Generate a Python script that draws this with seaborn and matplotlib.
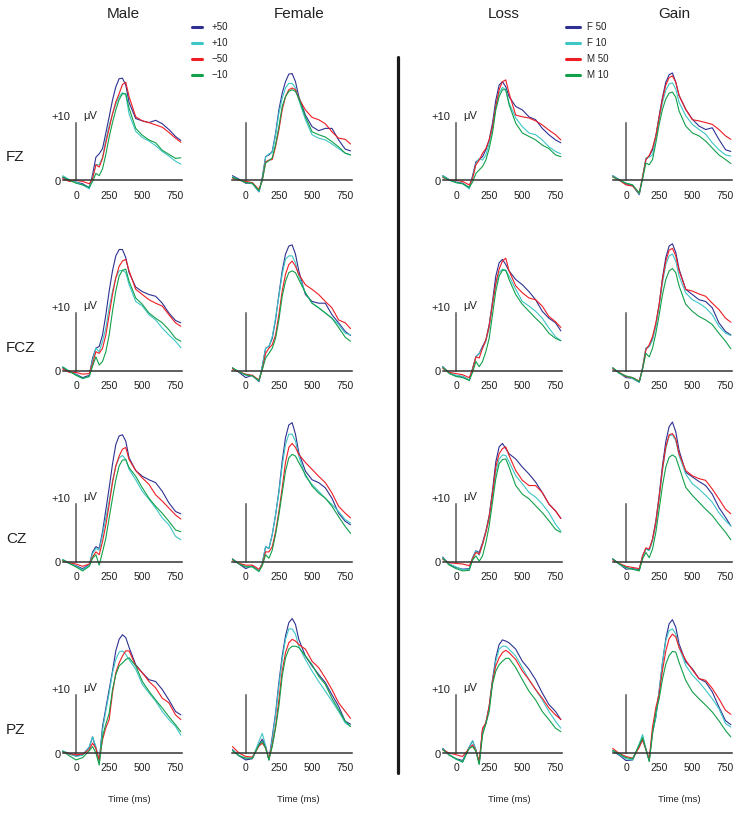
import matplotlib
matplotlib.use('Agg')
import matplotlib.pyplot as plt
from matplotlib.lines import Line2D
import pandas as pd
import seaborn as sns

# ---- data --------------------------------------------------------------
TIME_MS = [-100, -50, 0, 50, 100, 125, 150, 175, 200, 225, 250, 275, 300,
           325, 350, 375, 400, 450, 500, 550, 600, 650, 700, 750, 790]

ELECTRODES = ['FZ', 'FCZ', 'CZ', 'PZ']
COLUMNS = ['Male', 'Female', 'Loss', 'Gain']
SEX_CONDS = ['+50', '+10', '\u221250', '\u221210']
OUTCOME_CONDS = ['F 50', 'F 10', 'M 50', 'M 10']
COLORS = ['#2E3192', '#3EC6C6', '#EE1D24', '#12A04A']

# amplitudes in uV, one list per condition (legend order)
FZ_MALE = [
    [0.5, 0.0, -0.3, -0.6, -1.3, 1.0, 4.0, 4.6, 5.5, 8.2, 11.0, 13.9, 16.2, 17.6, 17.7, 16.5, 13.5, 10.7, 10.3, 10.0, 10.4, 9.8, 8.8, 7.6, 6.9],
    [0.8, 0.1, -0.3, -0.8, -1.5, 0.5, 2.7, 2.7, 4.0, 7.0, 9.5, 11.5, 13.2, 14.5, 15.2, 14.8, 11.5, 8.5, 7.4, 6.8, 6.0, 5.0, 4.2, 3.3, 2.8],
    [0.3, -0.2, 0.0, -0.2, -0.6, 0.3, 2.7, 2.3, 3.8, 6.5, 9.0, 11.5, 13.6, 15.0, 16.6, 17.0, 14.5, 11.0, 10.3, 10.0, 9.6, 9.2, 8.3, 7.3, 6.6],
    [0.6, 0.0, -0.5, -0.8, -1.2, -0.2, 1.2, 0.8, 2.0, 4.5, 7.5, 10.0, 12.2, 14.0, 15.0, 15.0, 12.5, 9.0, 7.8, 7.0, 6.5, 5.2, 4.5, 3.8, 3.9],
]
FZ_FEMALE = [
    [0.8, 0.2, -0.5, -0.5, -2.0, 0.5, 4.1, 4.4, 5.0, 8.1, 12.2, 15.1, 17.1, 18.4, 18.5, 17.1, 14.5, 11.3, 9.3, 8.6, 9.0, 9.0, 7.0, 5.4, 5.1],
    [0.6, 0.1, -0.3, -0.6, -2.0, 0.3, 4.0, 4.6, 4.8, 7.8, 11.6, 14.2, 16.0, 16.8, 16.8, 16.0, 13.9, 10.5, 7.9, 7.3, 7.0, 6.3, 5.5, 4.7, 4.4],
    [0.4, 0.0, -0.2, -0.4, -1.6, 0.0, 3.2, 3.5, 3.6, 5.8, 8.7, 12.2, 14.5, 15.7, 16.0, 15.7, 14.2, 12.2, 10.9, 10.5, 9.8, 8.4, 7.3, 7.1, 6.3],
    [0.5, 0.1, -0.4, -0.5, -1.8, 0.0, 3.0, 3.4, 3.9, 6.2, 9.3, 12.8, 14.5, 15.4, 15.7, 15.4, 14.2, 11.0, 8.4, 7.9, 7.5, 6.7, 5.8, 4.7, 4.4],
]
FZ_LOSS = [
    [0.8, 0.1, -0.3, -0.5, -1.3, 0.8, 3.2, 3.6, 4.1, 5.3, 7.0, 9.9, 13.9, 16.5, 17.1, 16.2, 14.5, 12.8, 12.2, 11.0, 10.5, 9.0, 7.9, 7.0, 6.5],
    [0.8, 0.1, -0.4, -0.6, -1.5, 0.5, 2.9, 3.8, 3.5, 4.4, 6.4, 9.0, 12.8, 15.1, 16.1, 15.7, 13.4, 10.8, 9.3, 8.2, 7.9, 7.0, 5.8, 5.0, 4.6],
    [0.5, 0.0, 0.0, -0.2, -0.8, 0.3, 2.7, 3.5, 4.7, 5.5, 7.0, 9.3, 12.8, 15.7, 17.1, 17.4, 15.1, 11.3, 11.0, 10.8, 10.3, 9.6, 8.7, 7.9, 7.0],
    [0.6, 0.0, -0.4, -0.6, -1.2, -0.3, 1.2, 1.8, 2.4, 3.5, 5.5, 8.2, 12.2, 14.5, 15.7, 15.7, 13.1, 9.9, 8.2, 7.6, 7.0, 6.1, 5.5, 4.4, 4.1],
]
FZ_GAIN = [
    [0.8, 0.1, -0.6, -0.9, -2.5, 0.5, 3.6, 4.2, 5.3, 7.7, 11.2, 14.4, 17.0, 18.3, 18.6, 17.0, 14.7, 12.3, 10.6, 9.4, 8.8, 9.1, 7.1, 5.3, 5.0],
    [0.8, 0.1, -0.5, -0.8, -2.4, 0.6, 3.9, 4.0, 4.4, 7.5, 10.6, 13.5, 15.6, 16.7, 16.9, 15.8, 13.5, 11.2, 9.7, 8.8, 8.0, 6.5, 5.3, 4.4, 4.2],
    [0.6, 0.0, -0.8, -1.0, -2.2, 0.6, 3.6, 4.3, 5.6, 7.7, 10.9, 14.1, 16.5, 17.8, 18.1, 17.0, 14.7, 12.3, 10.5, 10.3, 10.0, 9.7, 8.8, 7.7, 7.1],
    [0.6, 0.0, -0.5, -0.8, -2.2, 0.2, 3.0, 2.7, 3.6, 6.5, 9.7, 12.3, 14.1, 15.1, 15.3, 14.4, 12.0, 9.4, 8.2, 7.7, 6.8, 5.6, 4.4, 3.6, 2.9],
]

FCZ_MALE = [
    [0.5, -0.2, -0.6, -1.2, -0.8, 2.2, 3.9, 4.2, 6.2, 9.7, 13.8, 17.3, 19.9, 21.0, 21.0, 19.6, 17.0, 14.5, 13.7, 13.2, 12.9, 11.7, 10.0, 8.7, 8.3],
    [0.7, -0.1, -0.7, -1.4, -1.0, 1.8, 3.9, 3.3, 5.1, 7.4, 10.9, 13.8, 16.1, 17.3, 17.4, 17.0, 14.9, 12.0, 11.2, 9.7, 8.8, 7.4, 6.2, 5.1, 4.0],
    [0.3, -0.3, -0.3, -0.6, -0.5, 1.2, 3.3, 3.0, 3.9, 6.2, 9.7, 13.2, 16.1, 18.1, 19.0, 19.3, 17.3, 14.1, 13.2, 12.3, 11.7, 11.2, 9.7, 8.3, 7.7],
    [0.6, -0.1, -0.8, -1.3, -1.0, 0.8, 2.4, 1.0, 1.6, 3.3, 6.2, 10.3, 13.8, 16.4, 17.4, 17.6, 15.5, 12.6, 11.5, 10.0, 9.1, 8.3, 7.1, 5.6, 5.1],
]
FCZ_FEMALE = [
    [0.5, -0.3, -1.2, -0.8, -1.9, 0.8, 3.9, 4.2, 5.6, 8.8, 13.2, 17.3, 20.2, 21.6, 21.8, 20.2, 17.3, 13.2, 12.0, 11.7, 11.7, 9.7, 8.3, 6.8, 6.1],
    [0.4, -0.2, -0.8, -0.9, -1.8, 0.8, 3.9, 4.2, 5.9, 9.1, 12.9, 16.7, 19.3, 19.9, 19.9, 18.7, 16.4, 13.5, 11.7, 10.9, 10.0, 9.1, 8.0, 6.5, 6.2],
    [0.3, -0.2, -0.6, -0.8, -1.6, 0.2, 3.0, 3.9, 4.5, 6.2, 9.7, 13.8, 16.7, 18.4, 19.0, 18.1, 16.7, 14.9, 14.1, 13.2, 12.0, 10.9, 8.8, 8.3, 7.3],
    [0.5, -0.2, -0.7, -0.9, -1.7, 0.2, 2.2, 3.0, 3.9, 5.6, 8.8, 12.9, 15.5, 17.0, 17.3, 17.0, 15.8, 13.5, 11.7, 10.9, 10.0, 9.1, 7.5, 5.8, 5.1],
]
FCZ_LOSS = [
    [0.7, -0.4, -0.9, -1.0, -1.6, 0.4, 2.4, 3.0, 4.2, 5.3, 8.0, 12.0, 16.4, 18.7, 19.3, 18.4, 17.3, 15.8, 14.9, 13.7, 12.3, 10.3, 9.1, 8.3, 6.9],
    [0.6, -0.4, -0.8, -1.0, -1.6, 0.3, 2.4, 3.0, 3.9, 5.1, 7.4, 11.5, 14.9, 17.0, 17.6, 17.4, 16.4, 14.1, 12.0, 11.2, 10.3, 9.1, 7.4, 5.9, 5.2],
    [0.4, -0.3, -0.5, -0.7, -1.2, 0.2, 2.4, 2.2, 3.9, 5.3, 7.7, 11.5, 15.2, 17.6, 19.0, 19.5, 17.3, 14.7, 13.5, 12.6, 12.3, 11.2, 9.4, 8.5, 7.5],
    [0.6, -0.5, -1.0, -1.2, -1.7, -0.3, 1.6, 0.7, 1.6, 3.3, 5.6, 9.7, 13.8, 16.4, 17.4, 17.4, 15.8, 13.2, 11.5, 10.3, 9.1, 8.0, 6.5, 5.6, 5.2],
]
FCZ_GAIN = [
    [0.5, -0.4, -1.2, -1.3, -2.0, 0.5, 3.9, 4.2, 5.6, 8.0, 11.5, 16.1, 19.6, 21.6, 22.0, 20.5, 17.6, 14.1, 13.2, 12.3, 12.0, 10.9, 8.3, 6.8, 6.2],
    [0.4, -0.5, -1.0, -1.4, -2.0, 0.5, 3.9, 4.2, 5.3, 7.7, 11.2, 15.2, 18.4, 19.9, 20.2, 19.0, 16.4, 13.5, 12.3, 11.7, 10.9, 9.7, 7.7, 6.5, 6.1],
    [0.3, -0.3, -1.0, -1.2, -1.8, 0.4, 3.6, 4.5, 5.9, 8.3, 11.5, 15.8, 19.0, 20.9, 21.2, 19.9, 17.3, 14.1, 13.8, 13.3, 12.9, 11.7, 10.6, 9.1, 8.4],
    [0.5, -0.4, -0.9, -1.2, -1.9, 0.2, 3.0, 2.4, 3.9, 6.5, 9.7, 13.2, 15.8, 17.3, 17.7, 17.0, 14.7, 11.5, 10.3, 9.4, 8.8, 8.0, 6.5, 5.1, 3.8],
]

CZ_MALE = [
    [0.3, -0.3, -0.7, -1.2, -0.5, 1.7, 2.6, 2.3, 5.2, 9.0, 12.8, 16.9, 20.3, 21.8, 22.0, 20.9, 18.0, 15.8, 14.8, 14.2, 13.7, 12.2, 10.2, 8.7, 8.3],
    [0.4, -0.2, -0.8, -1.4, -0.6, 1.4, 2.3, 2.0, 4.7, 7.6, 10.5, 14.0, 16.6, 18.0, 18.4, 17.7, 16.0, 14.2, 12.2, 10.8, 9.3, 7.6, 6.4, 4.4, 3.8],
    [0.2, -0.2, -0.4, -0.8, -0.4, 0.8, 1.7, 1.2, 3.5, 6.4, 9.9, 13.7, 16.6, 18.3, 19.5, 19.8, 17.7, 15.8, 14.5, 13.4, 11.6, 10.5, 9.3, 8.1, 7.4],
    [0.3, -0.3, -0.9, -1.6, -0.8, 0.6, 1.2, -0.6, 1.7, 4.1, 7.6, 11.0, 14.2, 16.6, 17.6, 17.7, 16.3, 14.8, 12.8, 11.0, 9.6, 8.4, 7.0, 5.5, 5.2],
]
CZ_FEMALE = [
    [0.5, -0.4, -1.2, -0.7, -1.6, -0.3, 2.6, 2.3, 4.7, 8.1, 12.2, 17.4, 21.5, 23.7, 24.1, 22.1, 18.9, 15.7, 14.2, 13.7, 12.8, 11.0, 8.4, 7.0, 6.4],
    [0.4, -0.3, -0.9, -0.8, -1.6, -0.2, 2.6, 2.3, 4.7, 8.1, 11.9, 16.6, 20.3, 22.1, 22.1, 20.9, 18.3, 14.8, 13.4, 12.2, 11.0, 9.9, 8.7, 7.3, 6.7],
    [0.3, -0.3, -0.6, -0.6, -1.3, -0.5, 1.7, 1.7, 2.6, 5.2, 8.7, 12.8, 17.2, 19.8, 20.5, 19.8, 18.6, 17.2, 16.0, 14.8, 13.7, 11.9, 9.6, 8.4, 7.6],
    [0.4, -0.4, -0.9, -0.9, -1.7, -0.7, 1.2, 0.6, 2.0, 4.7, 8.1, 11.9, 15.7, 18.0, 18.6, 18.3, 17.2, 15.1, 13.1, 11.9, 11.0, 9.6, 7.8, 6.1, 4.9],
]
CZ_LOSS = [
    [0.8, -0.5, -1.0, -1.3, -1.2, 0.7, 1.9, 1.6, 3.3, 5.3, 8.0, 12.3, 17.3, 19.9, 20.5, 19.6, 18.7, 17.8, 16.4, 15.2, 13.8, 12.0, 10.0, 8.8, 7.5],
    [0.7, -0.4, -0.9, -1.4, -1.3, 0.6, 1.9, 1.1, 3.0, 5.1, 7.4, 11.5, 15.5, 17.8, 18.5, 18.4, 17.3, 14.9, 13.5, 12.0, 11.2, 10.0, 8.5, 6.5, 5.3],
    [0.4, -0.2, -0.3, -0.4, -0.7, 0.5, 1.6, 1.3, 3.0, 5.1, 7.7, 11.7, 16.4, 18.7, 19.6, 19.9, 18.4, 15.8, 14.1, 13.2, 13.2, 12.0, 10.0, 8.8, 7.5],
    [0.6, -0.6, -1.2, -1.6, -1.5, 0.3, 1.0, 0.1, 1.0, 3.3, 6.2, 10.3, 14.4, 17.0, 17.7, 17.8, 16.4, 13.2, 11.7, 10.9, 9.7, 8.5, 7.1, 5.6, 5.1],
]
CZ_GAIN = [
    [0.5, -0.4, -1.3, -1.2, -1.4, 1.0, 2.2, 2.0, 3.9, 7.1, 11.5, 16.7, 20.8, 23.4, 24.2, 22.5, 19.3, 15.5, 14.7, 13.9, 13.2, 11.7, 9.4, 7.7, 6.2],
    [0.4, -0.5, -1.0, -1.3, -1.5, 0.8, 2.2, 1.9, 3.6, 6.5, 10.9, 15.8, 19.6, 21.8, 22.0, 21.0, 18.4, 15.2, 13.5, 12.6, 11.5, 10.3, 8.5, 7.1, 6.2],
    [0.3, -0.3, -0.8, -1.0, -1.2, 1.0, 2.4, 2.2, 3.9, 6.8, 11.2, 16.1, 19.9, 22.0, 22.2, 21.3, 18.7, 15.8, 14.9, 14.4, 14.1, 12.6, 10.9, 9.1, 8.3],
    [0.5, -0.4, -1.0, -1.3, -1.6, 0.5, 1.6, 0.7, 2.2, 5.1, 9.1, 13.2, 16.4, 18.1, 18.5, 18.1, 16.4, 12.9, 11.5, 10.3, 9.1, 8.0, 6.5, 5.1, 3.8],
]

PZ_MALE = [
    [0.3, -0.2, -0.5, -0.3, 1.0, 2.8, 0.8, -1.5, 4.6, 7.8, 11.0, 14.2, 17.7, 19.7, 20.5, 20.0, 18.3, 15.3, 13.9, 12.7, 12.4, 11.0, 9.2, 7.2, 6.6],
    [0.4, -0.1, -0.6, -0.4, 1.1, 2.8, 1.1, -1.5, 4.0, 7.3, 10.4, 13.9, 16.2, 17.5, 17.7, 17.1, 16.2, 14.5, 11.9, 10.4, 9.0, 7.2, 5.8, 4.6, 3.1],
    [0.2, -0.1, -0.3, -0.2, 0.6, 1.7, 0.8, -1.2, 2.3, 4.4, 5.8, 10.4, 13.9, 15.6, 16.8, 17.7, 17.7, 15.1, 13.9, 12.4, 11.3, 9.5, 8.7, 6.6, 5.8],
    [0.3, -0.5, -1.2, -0.8, 0.4, 1.1, 0.0, -2.1, 2.9, 5.0, 6.9, 11.0, 13.6, 15.1, 15.6, 16.2, 16.5, 15.1, 12.4, 10.7, 9.2, 7.8, 6.3, 4.9, 3.7],
]
PZ_FEMALE = [
    [0.6, -0.5, -1.2, -1.0, 1.5, 2.4, 1.1, -1.2, 2.8, 6.9, 12.2, 16.8, 20.3, 22.6, 23.3, 22.3, 19.7, 16.8, 15.1, 13.6, 12.2, 10.1, 8.1, 5.5, 5.0],
    [0.5, -0.4, -0.9, -0.9, 2.0, 3.4, 1.3, -1.2, 2.3, 6.6, 11.6, 16.2, 19.7, 21.5, 21.5, 20.6, 18.5, 16.2, 14.2, 12.4, 10.7, 9.0, 7.2, 5.2, 4.6],
    [1.1, 0.0, -0.6, -0.7, 1.2, 1.7, 0.9, -1.0, 1.4, 4.6, 9.2, 14.2, 17.4, 19.1, 19.7, 19.4, 18.8, 18.0, 15.9, 14.8, 13.0, 11.0, 8.7, 7.2, 6.0],
    [0.4, -0.5, -0.9, -0.9, 1.4, 2.0, 0.8, -1.2, 1.1, 4.3, 8.1, 13.3, 16.5, 18.0, 18.5, 18.5, 18.3, 16.8, 15.3, 13.3, 11.9, 9.5, 7.5, 5.5, 4.6],
]
PZ_LOSS = [
    [0.8, -0.3, -1.0, -1.3, 1.0, 2.1, 0.5, -1.8, 4.0, 5.2, 8.1, 12.7, 16.5, 18.8, 19.6, 19.4, 19.1, 18.0, 15.9, 14.5, 12.7, 10.4, 8.4, 7.2, 5.8],
    [0.7, -0.3, -1.1, -1.5, 1.1, 2.1, 0.6, -1.8, 3.7, 5.2, 7.8, 12.4, 15.9, 18.0, 18.5, 18.5, 18.0, 16.8, 14.8, 12.7, 11.0, 9.2, 7.2, 5.5, 4.3],
    [0.5, 0.0, -0.3, -0.6, 0.8, 1.4, 0.4, -1.5, 4.3, 5.2, 8.1, 12.4, 15.1, 16.5, 17.4, 17.8, 17.4, 16.2, 14.2, 12.7, 11.0, 9.5, 7.8, 6.6, 5.8],
    [0.6, -0.4, -1.0, -1.6, 0.8, 1.1, 0.3, -2.0, 3.1, 5.0, 7.2, 11.9, 14.2, 15.3, 15.9, 16.4, 16.4, 14.8, 12.7, 10.7, 9.2, 7.2, 5.8, 4.3, 3.7],
]
PZ_GAIN = [
    [0.3, -0.4, -1.3, -1.2, 1.3, 2.3, 0.7, -1.3, 3.6, 6.2, 10.8, 15.7, 19.8, 22.4, 23.1, 21.8, 18.9, 15.8, 14.6, 12.9, 12.3, 10.6, 8.0, 5.6, 4.9],
    [0.4, -0.3, -1.0, -1.2, 1.6, 3.2, 0.8, -1.3, 3.6, 6.2, 10.8, 15.7, 19.5, 21.2, 21.5, 20.6, 18.3, 15.2, 13.5, 12.3, 10.9, 9.4, 7.7, 5.1, 4.5],
    [0.8, -0.1, -0.6, -0.9, 1.0, 2.3, 0.6, -1.0, 4.5, 7.9, 10.2, 14.3, 17.7, 19.8, 20.6, 20.1, 18.3, 16.1, 14.4, 12.9, 12.6, 11.2, 9.4, 7.4, 6.7],
    [0.5, -0.2, -0.8, -1.0, 1.4, 2.7, 0.6, -1.5, 3.3, 7.1, 9.4, 12.8, 15.4, 16.9, 17.6, 17.5, 15.7, 12.6, 10.6, 9.4, 8.3, 7.1, 5.6, 3.9, 2.8],
]

PANELS = [
    [FZ_MALE, FZ_FEMALE, FZ_LOSS, FZ_GAIN],
    [FCZ_MALE, FCZ_FEMALE, FCZ_LOSS, FCZ_GAIN],
    [CZ_MALE, CZ_FEMALE, CZ_LOSS, CZ_GAIN],
    [PZ_MALE, PZ_FEMALE, PZ_LOSS, PZ_GAIN],
]

# ---- layout (pixels of the 747x815 output) ------------------------------
W, H = 747, 815
PX_PER_MS = 0.1327
PX_PER_UV = 5.77
X0_PX = [76, 245.7, 456, 626]       # where t = 0 sits for each column
Y0_PX = [180.3, 370.7, 561.7, 753]  # where 0 uV sits for each row
XLIM = (-130, 830)
YLIM = (-5, 26)

sns.set_style('white')
plt.rcParams['font.family'] = ['Liberation Sans', 'DejaVu Sans']

fig = plt.figure(figsize=(W / 100, H / 100), dpi=100)


def panel_rect(x0, y0):
    left = x0 + XLIM[0] * PX_PER_MS
    width = (XLIM[1] - XLIM[0]) * PX_PER_MS
    top = y0 - YLIM[1] * PX_PER_UV
    height = (YLIM[1] - YLIM[0]) * PX_PER_UV
    return [left / W, 1 - (top + height) / H, width / W, height / H]


for r, elec in enumerate(ELECTRODES):
    for c, col in enumerate(COLUMNS):
        labels = SEX_CONDS if c < 2 else OUTCOME_CONDS
        series = PANELS[r][c]
        df = pd.DataFrame({
            'time': TIME_MS * 4,
            'uv': [v for s in series for v in s],
            'cond': [lab for lab in labels for _ in TIME_MS],
        })

        ax = fig.add_axes(panel_rect(X0_PX[c], Y0_PX[r]))
        ax.patch.set_alpha(0)
        show_legend = (r == 0 and c in (0, 2))
        sns.lineplot(data=df, x='time', y='uv', hue='cond', hue_order=labels,
                     palette=COLORS, linewidth=0.8, errorbar=None,
                     legend=show_legend, ax=ax)
        ax.set_xlim(*XLIM)
        ax.set_ylim(*YLIM)
        ax.set_xlabel('')
        ax.set_ylabel('')

        # ERP-style axes crossing at the origin
        ax.spines['top'].set_visible(False)
        ax.spines['right'].set_visible(False)
        ax.spines['bottom'].set_position(('data', 0))
        ax.spines['bottom'].set_bounds(-100, 800)
        ax.spines['bottom'].set_color('#333333')
        ax.spines['bottom'].set_linewidth(1.1)
        ax.spines['left'].set_position(('data', 0))
        ax.spines['left'].set_bounds(0, 10)
        ax.spines['left'].set_color('#555555')
        ax.spines['left'].set_linewidth(1.1)

        ax.set_xticks([0, 250, 500, 750])
        ax.set_xticklabels(['0', '250', '500', '750'])
        ax.tick_params(axis='x', direction='inout', length=7, width=1.0,
                       color='#333333', labelsize=7.5, pad=4, labelcolor='#222222')
        ax.xaxis.get_major_ticks()[0].tick1line.set_visible(False)
        ax.set_yticks([10])
        ax.set_yticklabels([])
        ax.tick_params(axis='y', direction='inout', length=5, width=1.0,
                       color='#555555')

        if c in (0, 2):
            ax.text(-40, 10.9, '+10', ha='right', va='center', fontsize=8,
                    color='#222222')
            ax.text(53, 11.2, '\u03bcV', ha='left', va='center', fontsize=8,
                    color='#222222')
            ax.text(-112, -0.3, '0', ha='right', va='center', fontsize=8,
                    color='#222222')

        if r == 3:
            ax.text(400, -8.1, 'Time (ms)', ha='center', va='center',
                    fontsize=6.8, color='#222222')

        if show_legend:
            lx = 192 if c == 0 else 566
            sns.move_legend(ax, 'upper left', bbox_to_anchor=(lx / W, 1 - 22.5 / H),
                            bbox_transform=fig.transFigure, frameon=False,
                            title=None, fontsize=7, borderpad=0,
                            borderaxespad=0,
                            handlelength=1.0 if c == 0 else 1.45,
                            handletextpad=1.0 if c == 0 else 0.7,
                            labelspacing=0.6)
            for h in ax.get_legend().get_lines():
                h.set_linewidth(2.2)
            for t in ax.get_legend().get_texts():
                t.set_color('#222222')

# column titles and electrode labels
TITLE_X = [123, 299.5, 503.5, 674.5]
for col, x in zip(COLUMNS, TITLE_X):
    fig.text(x / W, 1 - 14 / H, col, ha='center', va='center', fontsize=11,
             color='#222222')
for elec, y0 in zip(ELECTRODES, Y0_PX):
    fig.text(6 / W, 1 - (y0 - 23) / H, elec, ha='left', va='center',
             fontsize=11, color='#222222')

# divider between the two halves
fig.add_artist(Line2D([398 / W, 398 / W], [1 - 57 / H, 1 - 773 / H],
                      transform=fig.transFigure, color='#1a1a1a', linewidth=2.3))

fig.savefig('out.png', dpi=100)
